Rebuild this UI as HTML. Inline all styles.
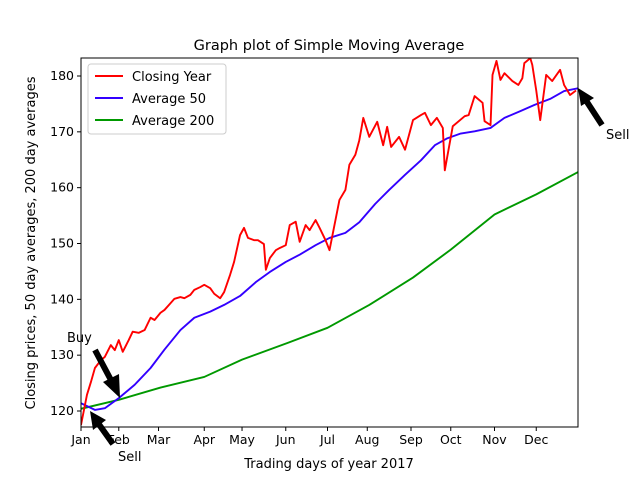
<!DOCTYPE html>
<html><head><meta charset="utf-8"><style>
body{margin:0;background:#fff}
svg{display:block;font-family:"DejaVu Sans","Liberation Sans",sans-serif}
</style></head><body>
<svg id="chart" width="641" height="481" viewBox="0 0 641 481">
<rect x="0" y="0" width="641" height="481" fill="#fff"/>
<g id="plot"></g>
</svg>
<script>
const xTickLabels=["Jan","Feb","Mar","Apr","May","Jun","Jul","Aug","Sep","Oct","Nov","Dec"];
const xTickDays=[0,19,39,62,81,103,124,144,166,186,208,229];
const yTicks=[120,130,140,150,160,170,180];
const closeDays=[0,3,5,7,10,12,15,17,19,21,24,26,29,32,35,37,40,42,45,47,50,52,55,57,60,62,65,67,70,72,75,77,80,82,84,87,89,92,93,95,98,100,103,105,108,110,113,115,118,120,123,125,128,130,133,135,138,140,142,145,149,152,154,156,160,163,167,171,173,176,179,182,183,187,193,195,198,202,203,206,207,209,211,213,217,220,222,223,226,227,229,231,234,237,241,243,246,249];
const closeVals=[117.5,122.9,125.2,127.7,129.1,129.7,131.8,130.9,132.7,130.6,132.7,134.2,134.0,134.5,136.7,136.3,137.6,138.1,139.3,140.1,140.4,140.2,140.8,141.7,142.2,142.6,142.0,141.0,140.2,141.3,144.4,146.7,151.5,152.8,151.0,150.6,150.6,149.9,145.3,147.4,148.8,149.2,149.7,153.3,153.9,150.3,153.3,152.4,154.2,152.8,150.6,148.8,154.2,157.8,159.6,164.1,165.9,168.5,172.5,169.1,171.8,167.6,170.9,167.3,169.1,166.8,172.1,173.0,173.4,171.2,172.5,170.7,163.1,171.0,172.8,173.0,176.4,175.2,171.9,171.2,180.2,182.7,179.3,180.5,179.1,178.4,179.6,182.3,183.2,182.0,177.4,172.1,180.2,179.1,181.1,178.4,176.6,177.4];
const avg50Days=[0,7,12,19,27,35,42,50,57,65,72,80,88,95,103,110,118,125,133,140,148,155,163,171,178,184,191,198,206,213,221,228,236,243,250];
const avg50Vals=[121.4,120.2,120.5,122.3,124.7,127.7,131.0,134.5,136.7,137.8,139.0,140.6,143.1,144.9,146.7,148.0,149.7,151.0,151.9,153.8,157.1,159.6,162.3,164.9,167.6,168.8,169.7,170.1,170.7,172.5,173.7,174.8,175.9,177.3,177.8];
const avg200Days=[0,19,40,62,81,104,124,145,167,186,208,229,250];
const avg200Vals=[120.4,122.0,124.2,126.1,129.2,132.2,134.9,139.0,143.9,148.9,155.2,158.8,162.8];

const L=81,R=578,T=58,B=427;
const xS=d=>L+d*(R-L)/250;
const yS=v=>411-(v-120)*(335/60);
const NS="http://www.w3.org/2000/svg";
const g=document.getElementById('plot');
function mk(tag,attrs,parent){const e=document.createElementNS(NS,tag);for(const k in attrs)e.setAttribute(k,attrs[k]);(parent||g).appendChild(e);return e;}

const clip=mk('clipPath',{id:'pc'});mk('rect',{x:L,y:T,width:R-L,height:B-T},clip);

function line(days,vals,color,name){
  const p=mk('polyline',{points:days.map((d,i)=>xS(d)+','+yS(vals[i])).join(' '),fill:'none',stroke:color,'stroke-width':1.9,'stroke-linejoin':'round','clip-path':'url(#pc)'});
  
  
}
line(avg200Days,avg200Vals,'#009900','series-average-200');
line(avg50Days,avg50Vals,'#3300ff','series-average-50');
line(closeDays,closeVals,'#ff0000','series-closing-year');

const frame=mk('rect',{x:L,y:T,width:R-L,height:B-T,fill:'none',stroke:'#000','stroke-width':1});



xTickDays.forEach((d,i)=>{
  const x=xS(d);
  mk('line',{x1:x,y1:B,x2:x,y2:B+4,stroke:'#000'});
  const t=mk('text',{x:x,y:B+17,'text-anchor':'middle','font-size':12.5,fill:'#000'});
  t.textContent=xTickLabels[i];
  
  
});
yTicks.forEach(v=>{
  const y=yS(v);
  mk('line',{x1:L-4,y1:y,x2:L,y2:y,stroke:'#000'});
  const t=mk('text',{x:L-7,y:y+4,'text-anchor':'end','font-size':12.5,fill:'#000'});
  t.textContent=v;
  
  
});
</script>
<svg style="position:absolute;left:0;top:0" width="641" height="481" font-family="DejaVu Sans, Liberation Sans, sans-serif">
<text x="329" y="50" text-anchor="middle" font-size="14.5">Graph plot of Simple Moving Average</text>
<text x="329" y="468" text-anchor="middle" font-size="13">Trading days of year 2017</text>
<text transform="translate(35,243) rotate(-90)" text-anchor="middle" font-size="13">Closing prices, 50 day averages, 200 day averages</text>
<g>
<rect x="88" y="64" width="138" height="70" rx="3" fill="#fff" stroke="#ccc"/>
<line x1="95" y1="76" x2="123" y2="76" stroke="#ff0000" stroke-width="1.9"/>
<text x="132" y="81" font-size="13">Closing Year</text>
<line x1="95" y1="98" x2="123" y2="98" stroke="#3300ff" stroke-width="1.9"/>
<text x="132" y="103" font-size="13">Average 50</text>
<line x1="95" y1="120" x2="123" y2="120" stroke="#009900" stroke-width="1.9"/>
<text x="132" y="125" font-size="13">Average 200</text>
</g>
<g>
<text x="67" y="342" font-size="13">Buy</text>
<line x1="95" y1="350" x2="112" y2="382" stroke="#000" stroke-width="6"/>
<polygon points="120,398 103,382 119,374" fill="#000"/>
</g>
<g>
<text x="118" y="461" font-size="13">Sell</text>
<line x1="113" y1="444" x2="98" y2="423" stroke="#000" stroke-width="6"/>
<polygon points="90,411 106,420 93,430" fill="#000"/>
</g>
<g>
<text x="606" y="139" font-size="13">Sell</text>
<line x1="602" y1="125" x2="587" y2="102" stroke="#000" stroke-width="6"/>
<polygon points="578,88 594,98 581,106" fill="#000"/>
</g>
</svg>
</body></html>
